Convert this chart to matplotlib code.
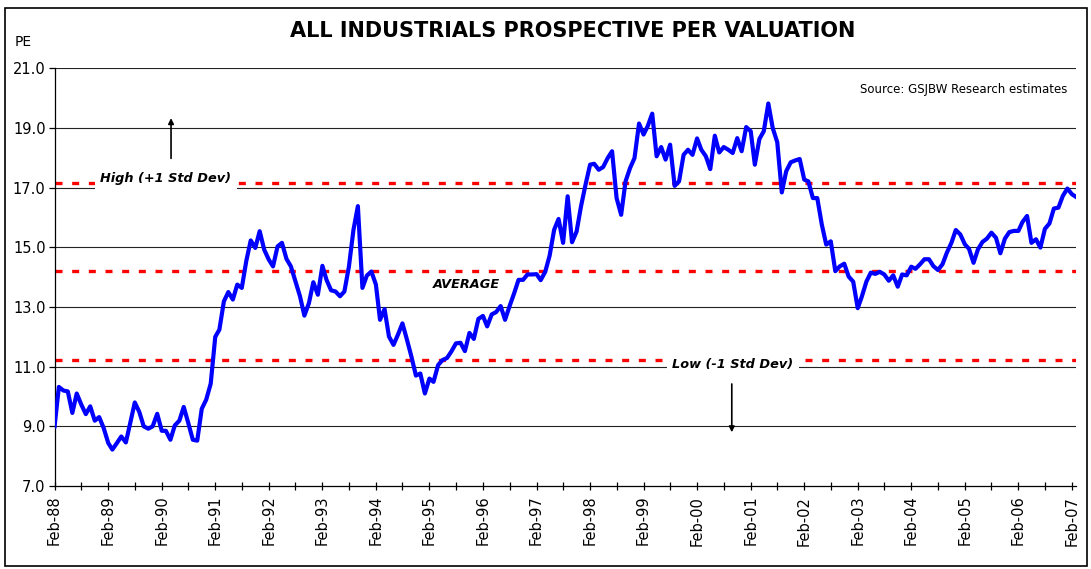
import numpy as np
import matplotlib
matplotlib.use('Agg')
import matplotlib.pyplot as plt
import matplotlib.dates as mdates
import pandas as pd

# monthly prospective PE, Feb-88 .. Mar-07
pe_88_91 = [9.0, 10.32, 10.2, 10.17, 9.45, 10.1, 9.73, 9.41, 9.67, 9.19, 9.31, 8.94,
            8.44, 8.22, 8.44, 8.66, 8.46, 9.11, 9.8, 9.48, 9.0, 8.92, 9.0, 9.42,
            8.85, 8.85, 8.55, 9.03, 9.19, 9.65, 9.11, 8.55, 8.52, 9.59, 9.89, 10.43]
pe_91_94 = [12.0, 12.24, 13.19, 13.5, 13.25, 13.75, 13.64, 14.55, 15.23, 14.98, 15.54, 14.92,
            14.59, 14.36, 15.03, 15.15, 14.61, 14.36, 13.86, 13.36, 12.71, 13.13, 13.83, 13.41,
            14.38, 13.91, 13.56, 13.52, 13.36, 13.52, 14.36, 15.59, 16.38, 13.64, 14.05, 14.19]
pe_94_97 = [13.75, 12.57, 12.93, 12.01, 11.73, 12.07, 12.45, 11.9, 11.34, 10.7, 10.77, 10.1,
            10.6, 10.49, 11.05, 11.22, 11.29, 11.51, 11.78, 11.8, 11.52, 12.13, 11.93, 12.6,
            12.7, 12.35, 12.75, 12.83, 13.03, 12.57, 13.03, 13.46, 13.91, 13.91, 14.09, 14.09]
pe_97_00 = [14.1, 13.9, 14.18, 14.72, 15.59, 15.95, 15.15, 16.71, 15.17, 15.53, 16.37, 17.1,
            17.77, 17.8, 17.6, 17.69, 17.99, 18.22, 16.65, 16.09, 17.21, 17.66, 17.99, 19.15,
            18.78, 19.06, 19.48, 18.05, 18.36, 17.94, 18.44, 17.06, 17.21, 18.1, 18.27, 18.1]
pe_00_03 = [18.65, 18.27, 18.05, 17.62, 18.74, 18.18, 18.36, 18.27, 18.16, 18.66, 18.22, 19.03,
            18.89, 17.77, 18.63, 18.89, 19.82, 19.0, 18.52, 16.84, 17.55, 17.85, 17.91, 17.96,
            17.27, 17.21, 16.65, 16.65, 15.76, 15.09, 15.2, 14.2, 14.36, 14.45, 14.02, 13.85]
pe_03_07 = [12.96, 13.35, 13.85, 14.15, 14.11, 14.18, 14.09, 13.88, 14.06, 13.68, 14.09, 14.06,
            14.35, 14.28, 14.43, 14.6, 14.6, 14.37, 14.24, 14.43, 14.82, 15.15, 15.58, 15.43,
            15.1, 14.95, 14.48, 14.93, 15.18, 15.29, 15.49, 15.32, 14.8, 15.29, 15.51, 15.55,
            15.55, 15.85, 16.05, 15.15, 15.27, 14.99, 15.62, 15.8, 16.3, 16.33, 16.72, 16.97,
            16.78, 16.69]

pe = pe_88_91 + pe_91_94 + pe_94_97 + pe_97_00 + pe_00_03 + pe_03_07
dates = pd.date_range('1988-02-01', periods=len(pe), freq='MS')

avg_pe = 14.2
high_pe = 17.17
low_pe = 11.23
y_ticks = [7, 9, 11, 13, 15, 17, 19, 21]

W, H = 1091, 569
fig = plt.figure(figsize=(W / 100, H / 100), dpi=100)
fig.patch.set_facecolor('white')

# axes placed in pixel terms
x0, x1, y_top, y_bot = 54.6, 1076, 68.3, 486
ax = fig.add_axes([x0 / W, 1 - y_bot / H, (x1 - x0) / W, (y_bot - y_top) / H])

ax.set_ylim(7, 21)
ax.set_xlim(dates[0], dates[-1])
ax.set_yticks(y_ticks)
ax.set_yticklabels([f'{v:.1f}' for v in y_ticks], fontsize=10.5)

for v in y_ticks[1:]:
    ax.axhline(v, color='#222222', lw=0.8, zorder=1)

for v in [avg_pe, high_pe, low_pe]:
    ax.axhline(v, color='#ff0000', lw=2.4, dashes=(2.1, 2.9), zorder=2)

ax.plot(dates, pe, color='#0000ff', lw=3.0, zorder=4, solid_joinstyle='round')

ax.xaxis.set_major_locator(mdates.MonthLocator(bymonth=2))
ax.xaxis.set_minor_locator(mdates.MonthLocator(bymonth=8))
ax.xaxis.set_major_formatter(mdates.DateFormatter('%b-%y'))
ax.tick_params(axis='x', which='both', direction='inout', length=6, width=0.9)
ax.tick_params(axis='x', which='major', labelsize=10.5, labelrotation=90, pad=4)
ax.tick_params(axis='y', direction='out', length=4.5, width=0.9, pad=2)

for s in ['top', 'right']:
    ax.spines[s].set_visible(False)
for s in ['left', 'bottom']:
    ax.spines[s].set_linewidth(0.9)

lab = dict(fontsize=9.3, fontweight='bold', fontstyle='italic', ha='center', va='center', zorder=5)
box = dict(boxstyle='square,pad=0.4', fc='white', ec='none')
ax.text(0.109, 17.29, 'High (+1 Std Dev)', transform=ax.get_yaxis_transform(), bbox=box, **lab)
ax.text(0.664, 11.08, 'Low (-1 Std Dev)', transform=ax.get_yaxis_transform(), bbox=box, **lab)
ax.text(0.403, 13.76, 'AVERAGE', transform=ax.get_yaxis_transform(), **lab)

arr = dict(arrowstyle='-|>', color='black', lw=1.2, mutation_scale=8, shrinkA=0, shrinkB=0)
ax.annotate('', xy=(0.114, 19.33), xytext=(0.114, 17.98),
            xycoords=('axes fraction', 'data'), arrowprops=arr)
ax.annotate('', xy=(0.663, 8.8), xytext=(0.663, 10.42),
            xycoords=('axes fraction', 'data'), arrowprops=arr)

fig.text(573 / W, 1 - 31 / H, 'ALL INDUSTRIALS PROSPECTIVE PER VALUATION',
         fontsize=15, fontweight='bold', ha='center', va='center')
fig.text(15 / W, 1 - 42 / H, 'PE', fontsize=10, ha='left', va='center')
fig.text(1067 / W, 1 - 89 / H, 'Source: GSJBW Research estimates',
         fontsize=8.5, ha='right', va='center')

# outer frame
fig.add_artist(plt.Rectangle((5 / W, 1 - 566 / H), (1087 - 5) / W, (566 - 8) / H,
                             transform=fig.transFigure, fill=False, ec='black', lw=1.2))

fig.savefig('out.png', dpi=100)
